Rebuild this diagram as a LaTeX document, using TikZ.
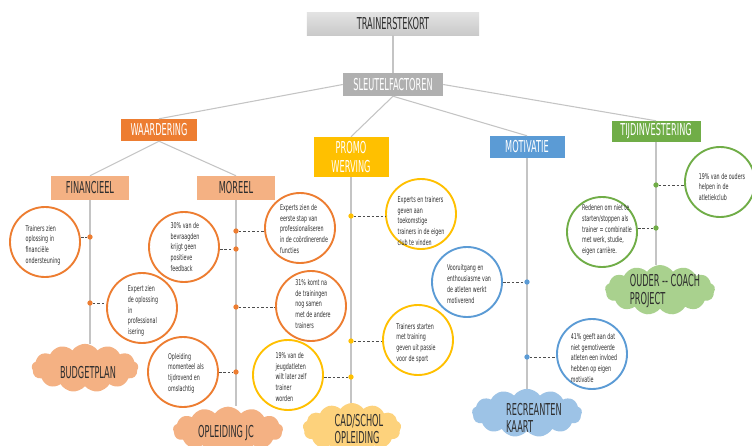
\documentclass[tikz,border=0pt]{standalone}
\usepackage{fontspec}
\setmainfont{DejaVu Sans}[FakeStretch=0.6]
\newfontfamily\headfont{DejaVu Sans}[FakeStretch=0.5]
\usepackage{tikz}
\usetikzlibrary{shapes.symbols, positioning}

\definecolor{lijn}{HTML}{C4C4C4}
\definecolor{oranje}{HTML}{ED7D31}
\definecolor{zalm}{HTML}{F4B183}
\definecolor{geel}{HTML}{FFC000}
\definecolor{lichtgeel}{HTML}{FDD27C}
\definecolor{blauw}{HTML}{5B9BD5}
\definecolor{lichtblauw}{HTML}{9DC3E6}
\definecolor{groen}{HTML}{70AD47}
\definecolor{lichtgroen}{HTML}{A9D18E}
\definecolor{tekst}{HTML}{2E2E2E}

\begin{document}
\begin{tikzpicture}[
    x=0.03cm, y=-0.03cm,
    head/.style={rectangle, inner sep=1pt, align=center, font=\headfont\fontsize{14}{16}\selectfont},
    factor/.style={head, fill=#1, minimum width=2.28cm, minimum height=0.66cm, text=white},
    sub/.style={head, fill=zalm, minimum width=2.31cm, minimum height=0.72cm, text=tekst},
    bubble/.style={circle, draw=#1, line width=1.6pt, fill=white, minimum size=2.1cm, inner sep=0pt},
    bubbletext/.style={align=left, font=\fontsize{6.8}{9.2}\selectfont, text=tekst, inner sep=0pt},
    wolk/.style={cloud, cloud puffs=13, cloud puff arc=110, cloud ignores aspect, fill=#1, minimum width=3.2cm, minimum height=1.45cm, inner sep=0pt},
    wolktext/.style={align=left, font=\headfont\fontsize{14}{15}\selectfont, text=tekst, inner sep=0pt},
    link/.style={draw=lijn, line width=0.9pt},
    dotline/.style={draw=tekst!85, dash pattern=on 2.2pt off 1.6pt, line width=0.7pt},
    dot/.style={circle, fill=#1, minimum size=4.5pt, inner sep=0pt}
]
\clip (0,0) rectangle (752,446);
\fill[white] (0,0) rectangle (752,446);

% top of the tree
\node[head, top color=gray!22, bottom color=gray!42, minimum width=5.16cm, minimum height=0.69cm, text=tekst] (trainer) at (393,23.5) {TRAINERSTEKORT};
\node[head, fill=gray!62, minimum width=3cm, minimum height=0.69cm, text=white] (sleutel) at (393,84.5) {SLEUTELFACTOREN};

\node[factor=oranje] (waard) at (159,130) {WAARDERING};
\node[factor=geel, minimum width=2.25cm, minimum height=1.2cm, font=\headfont\fontsize{14}{16.5}\selectfont] (promo) at (351,157) {PROMO\\WERVING};
\node[factor=blauw, minimum width=2.25cm] (motiv) at (527,147) {MOTIVATIE};
\node[factor=groen, minimum width=2.67cm, minimum height=0.63cm] (tijd) at (656,131.5) {TIJDINVESTERING};

\node[sub] (fin) at (90,188) {FINANCIEEL};
\node[sub, minimum width=2.34cm] (moreel) at (236,188) {MOREEL};

% clouds at the bottom
\node[wolk=zalm] (budget) at (85,368) {};
\node[wolktext] (budgett) at (88,373) {BUDGETPLAN};
\node[wolk=zalm, minimum width=3.3cm, minimum height=1.4cm] (opljc) at (228,430) {};
\node[wolktext] (opljct) at (226,433) {OPLEIDING JC};
\node[wolk=lichtgeel, minimum width=2.95cm, minimum height=1.5cm] (cad) at (352,428) {};
\node[wolktext] (cadt) at (359,429) {CAD/SCHOL\\OPLEIDING};
\node[wolk=lichtblauw, minimum width=3.3cm] (recr) at (527,413) {};
\node[wolktext] (recrt) at (534,418) {RECREANTEN\\KAART};
\node[wolk=lichtgroen, minimum width=3.3cm, minimum height=1.5cm] (ouder) at (660,290) {};
\node[wolktext] (oudert) at (665,291) {OUDER -- COACH\\PROJECT};

% bubbles
\node[bubble=oranje] (c1) at (45,242) {};
\node[bubbletext] (c1t) at (43,245) {Trainers zien\\oplossing in\\financiële\\ondersteuning};
\node[bubble=oranje] (c2) at (142,308) {};
\node[bubbletext] (c2t) at (143,311) {Expert zien\\de oplossing\\in\\professional\\isering};
\node[bubble=oranje] (c3) at (184,247) {};
\node[bubbletext] (c3t) at (185,247) {30\% van de\\bevraagden\\krijgt geen\\positieve\\feedback};
\node[bubble=oranje] (c4) at (300,228) {};
\node[bubbletext] (c4t) at (304,229) {Experts zien de\\eerste stap van\\professionaliseren\\in de coördinerende\\functies};
\node[bubble=oranje] (c5) at (311,306) {};
\node[bubbletext] (c5t) at (313,304) {31\% komt na\\de trainingen\\nog samen\\met de andere\\trainers};
\node[bubble=oranje] (c6) at (183,372) {};
\node[bubbletext] (c6t) at (186,373) {Opleiding\\momenteel als\\tijdrovend en\\omslachtig};
\node[bubble=geel] (c7) at (421,214) {};
\node[bubbletext] (c7t) at (421,221) {Experts en trainers\\geven aan\\toekomstige\\trainers in de eigen\\club te vinden};
\node[bubble=geel] (c8) at (418,340) {};
\node[bubbletext] (c8t) at (416,343) {Trainers starten\\met training\\geven uit passie\\voor de sport};
\node[bubble=geel] (c9) at (288,375) {};
\node[bubbletext] (c9t) at (291,377) {19\% van de\\jeugdatleten\\wilt later zelf\\trainer\\worden};
\node[bubble=blauw] (c10) at (467,282) {};
\node[bubbletext] (c10t) at (469,284) {Vooruitgang en\\enthousiasme van\\de atleten werkt\\motiverend};
\node[bubble=blauw] (c11) at (592,354) {};
\node[bubbletext] (c11t) at (594,358) {41\% geeft aan dat\\niet gemotiveerde\\atleten een invloed\\hebben op eigen\\motivatie};
\node[bubble=groen] (c12) at (720,182) {};
\node[bubbletext] (c12t) at (722,187) {19\% van de ouders\\helpen in de\\atletiekclub};
\node[bubble=groen] (c13) at (602,232) {};
\node[bubbletext] (c13t) at (607,230) {Redenen om niet te\\starten/stoppen als\\trainer = combinatie\\met werk, studie,\\eigen carrière.};

% tree lines
\draw[link] (trainer) -- (sleutel);
\draw[link] (sleutel.west) -- (waard.north);
\draw[link] (sleutel.south) -- (promo.north);
\draw[link] (sleutel.south) -- (motiv.north);
\draw[link] (sleutel.east) -- (tijd.north);
\draw[link] (waard.south) -- (fin.north);
\draw[link] (waard.south) -- (moreel.north);
\draw[link] (fin) -- (fin |- budget.north);
\draw[link] (moreel) -- (moreel |- opljc.north);
\draw[link] (promo) -- (promo |- cad.north);
\draw[link] (motiv) -- (motiv |- recr.north);
\draw[link] (tijd) -- (tijd |- ouder.north);

% dots on the lines
\node[dot=oranje] (d1) at (90,237) {};
\node[dot=oranje] (d2) at (90,303) {};
\node[dot=oranje] (d3) at (236,249) {};
\node[dot=oranje] (d4) at (236,231) {};
\node[dot=oranje] (d5) at (236,307) {};
\node[dot=oranje] (d6) at (236,372) {};
\node[dot=geel] (d7) at (351,216) {};
\node[dot=geel] (d8) at (351,341) {};
\node[dot=geel] (d9) at (351,377) {};
\node[dot=blauw] (d10) at (527,282) {};
\node[dot=blauw] (d11) at (527,357) {};
\node[dot=groen] (d12) at (656,185) {};
\node[dot=groen] (d13) at (656,228) {};

\draw[dotline] (c1.east |- d1) -- (d1);
\draw[dotline] (d2) -- (c2.west |- d2);
\draw[dotline] (c3.east |- d3) -- (d3);
\draw[dotline] (d4) -- (c4.west |- d4);
\draw[dotline] (d5) -- (c5.west |- d5);
\draw[dotline] (c6.east |- d6) -- (d6);
\draw[dotline] (d7) -- (c7.west |- d7);
\draw[dotline] (d8) -- (c8.west |- d8);
\draw[dotline] (c9.east |- d9) -- (d9);
\draw[dotline] (c10.east |- d10) -- (d10);
\draw[dotline] (d11) -- (c11.west |- d11);
\draw[dotline] (d12) -- (c12.west |- d12);
\draw[dotline] (c13.east |- d13) -- (d13);
\end{tikzpicture}
\end{document}
